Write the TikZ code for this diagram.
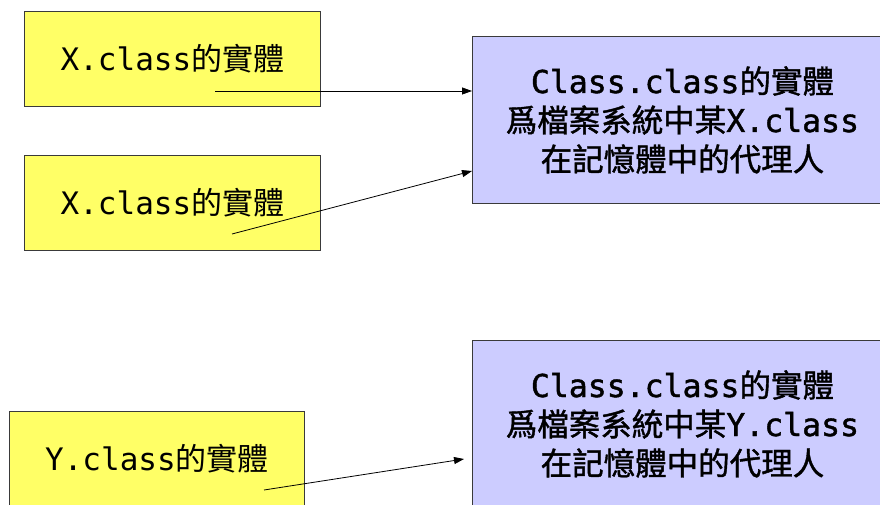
\documentclass[tikz,border=0pt]{standalone}
\usepackage{fontspec}
\usetikzlibrary{arrows.meta}
\newfontfamily\cjk{Noto Sans CJK TC}
\newfontfamily\cjkb[FakeBold=1.3]{Noto Sans CJK TC}
\newfontfamily\mono{DejaVu Sans Mono}
\newfontfamily\monob[FakeBold=1.3]{DejaVu Sans Mono}
\let\latfont\mono
\newcommand\lt[1]{{\latfont #1}}
\definecolor{boxyellow}{HTML}{FFFF66}
\definecolor{boxblue}{HTML}{CCCCFF}
\definecolor{edge}{HTML}{3A3A3A}
\begin{document}
\begin{tikzpicture}[x=1pt,y=-1pt,
  ybox/.style={draw=edge,line width=0.9pt,fill=boxyellow,inner sep=0pt,
    minimum width=296pt,minimum height=95pt,anchor=north west,
    font={\cjk\fontsize{31}{36}\selectfont}},
  bbox/.style={draw=edge,line width=0.9pt,fill=boxblue,inner sep=0pt,
    minimum width=420pt,minimum height=167pt,anchor=north west,align=center,
    font={\cjkb\let\latfont\monob\fontsize{31.5}{39}\selectfont}},
  conn/.style={draw=black,line width=0.8pt,-{Triangle[length=10pt,width=7pt]}}]
\useasboundingbox (0,0) rectangle (880,505);
\fill[white] (0,0) rectangle (880,505);
\node[ybox] (y1) at (24,11) {\lt{X.class}的實體};
\node[ybox] (y2) at (24,155) {\lt{X.class}的實體};
\node[ybox,minimum width=295pt] (y3) at (9,411) {\lt{Y.class}的實體};
\node[bbox] (b1) at (472,36) {\lt{Class.class}的實體\\爲檔案系統中某\lt{X.class}\\在記憶體中的代理人};
\node[bbox] (b2) at (472,340) {\lt{Class.class}的實體\\爲檔案系統中某\lt{Y.class}\\在記憶體中的代理人};
\coordinate (s1) at (215,91);
\coordinate (s2) at (232,234);
\coordinate (s3) at (264,490);
\coordinate (e2) at (472,171);
\coordinate (e3) at (464,459);
\draw[conn] (s1) -- (b1.west |- s1);
\draw[conn] (s2) -- (e2);
\draw[conn] (s3) -- (e3);
\end{tikzpicture}
\end{document}
